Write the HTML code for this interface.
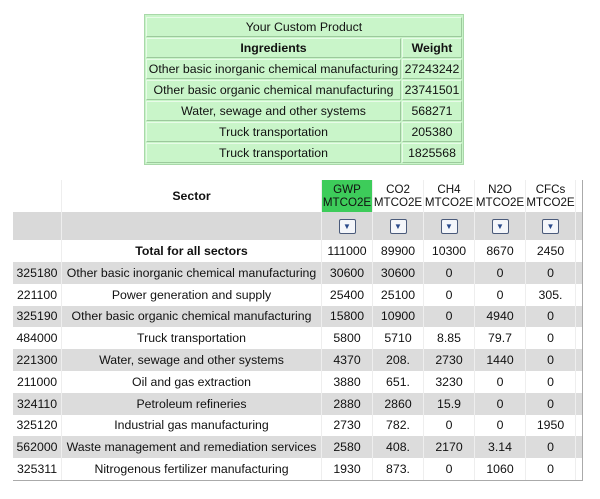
<!DOCTYPE html>
<html><head><style>
body{margin:0;background:#fff;width:600px;height:499px;position:relative;font-family:"Liberation Sans",Arial,sans-serif;font-size:12px;color:#111;overflow:hidden}
.g{position:absolute;left:144px;top:14px;width:320px;height:151px;background:#c9f5c9;border:1px solid #a9d8a9;box-sizing:border-box}
.gc{position:absolute;background:#c9f5c9;border:1px solid #e8fbe8;border-right-color:#9cc99c;border-bottom-color:#9cc99c;box-sizing:border-box;text-align:center;line-height:18px;white-space:nowrap;font-size:12.3px}
.t{position:absolute;left:13px;top:180px;width:570px;height:301px;border:1px solid #aaa;border-top:none;border-left:none;box-sizing:border-box}
.r{position:absolute;left:13px;width:569px}
.c{position:absolute;top:0;height:100%;text-align:center;white-space:nowrap;display:flex;align-items:center;justify-content:center;border-right:1px solid #eee;box-sizing:border-box;font-size:12.3px}
.h{font-size:11.6px;line-height:13px}
.btn{width:15px;height:13px;border:1px solid #4a5a7a;border-radius:2px;background:#f4f6fa;color:#2a4a8a;font-size:8px;line-height:13px;text-align:center;font-weight:bold}
</style></head><body>
<div class="g"></div>
<div class="gc" style="left:146px;top:17px;width:316px;height:20px">Your Custom Product</div>
<div class="gc" style="left:146px;top:38px;width:255px;height:20px;font-weight:bold">Ingredients</div>
<div class="gc" style="left:402px;top:38px;width:60px;height:20px;font-weight:bold">Weight</div>
<div class="gc" style="left:146px;top:59px;width:255px;height:20px">Other basic inorganic chemical manufacturing</div>
<div class="gc" style="left:402px;top:59px;width:60px;height:20px">27243242</div>
<div class="gc" style="left:146px;top:80px;width:255px;height:20px">Other basic organic chemical manufacturing</div>
<div class="gc" style="left:402px;top:80px;width:60px;height:20px">23741501</div>
<div class="gc" style="left:146px;top:101px;width:255px;height:20px">Water, sewage and other systems</div>
<div class="gc" style="left:402px;top:101px;width:60px;height:20px">568271</div>
<div class="gc" style="left:146px;top:122px;width:255px;height:20px">Truck transportation</div>
<div class="gc" style="left:402px;top:122px;width:60px;height:20px">205380</div>
<div class="gc" style="left:146px;top:143px;width:255px;height:20px">Truck transportation</div>
<div class="gc" style="left:402px;top:143px;width:60px;height:20px">1825568</div>

<div class="t"></div>
<div class="r" style="top:180px;height:32px">
<div class="c" style="left:0;width:49px"></div>
<div class="c" style="left:49px;width:260px;font-weight:bold">Sector</div>
<div class="c h" style="left:309px;width:51px;background:#3dcc5a">GWP<br>MTCO2E</div>
<div class="c h" style="left:360px;width:51px">CO2<br>MTCO2E</div>
<div class="c h" style="left:411px;width:51px">CH4<br>MTCO2E</div>
<div class="c h" style="left:462px;width:51px">N2O<br>MTCO2E</div>
<div class="c h" style="left:513px;width:50px">CFCs<br>MTCO2E</div>
</div>
<div class="r" style="top:212px;height:28px;background:#d9d9d9">
<div class="c" style="left:0;width:49px"></div><div class="c" style="left:49px;width:260px"></div>
<div class="c" style="left:309px;width:51px"><div class="btn">▼</div></div>
<div class="c" style="left:360px;width:51px"><div class="btn">▼</div></div>
<div class="c" style="left:411px;width:51px"><div class="btn">▼</div></div>
<div class="c" style="left:462px;width:51px"><div class="btn">▼</div></div>
<div class="c" style="left:513px;width:50px"><div class="btn">▼</div></div>
</div>
<div class="r" style="top:240px;height:22px">
<div class="c" style="left:0;width:49px"></div>
<div class="c" style="left:49px;width:260px;font-weight:bold">Total for all sectors</div>
<div class="c" style="left:309px;width:51px">111000</div><div class="c" style="left:360px;width:51px">89900</div><div class="c" style="left:411px;width:51px">10300</div><div class="c" style="left:462px;width:51px">8670</div><div class="c" style="left:513px;width:50px">2450</div>
</div>
<div id="rows"></div>
<script>
var d=[["325180","Other basic inorganic chemical manufacturing","30600","30600","0","0","0"],
["221100","Power generation and supply","25400","25100","0","0","305."],
["325190","Other basic organic chemical manufacturing","15800","10900","0","4940","0"],
["484000","Truck transportation","5800","5710","8.85","79.7","0"],
["221300","Water, sewage and other systems","4370","208.","2730","1440","0"],
["211000","Oil and gas extraction","3880","651.","3230","0","0"],
["324110","Petroleum refineries","2880","2860","15.9","0","0"],
["325120","Industrial gas manufacturing","2730","782.","0","0","1950"],
["562000","Waste management and remediation services","2580","408.","2170","3.14","0"],
["325311","Nitrogenous fertilizer manufacturing","1930","873.","0","1060","0"]];
var L=[0,49,309,360,411,462,513],W=[49,260,51,51,51,51,50],h="";
d.forEach(function(r,i){h+='<div class="r" style="top:'+(262+i*21.8)+'px;height:21.8px;background:'+(i%2?'#fff':'#dcdcdc')+'">';
r.forEach(function(v,j){h+='<div class="c" style="left:'+L[j]+'px;width:'+W[j]+'px">'+v+'</div>'});h+='</div>'});
document.getElementById("rows").innerHTML=h;
</script>
</body></html>
